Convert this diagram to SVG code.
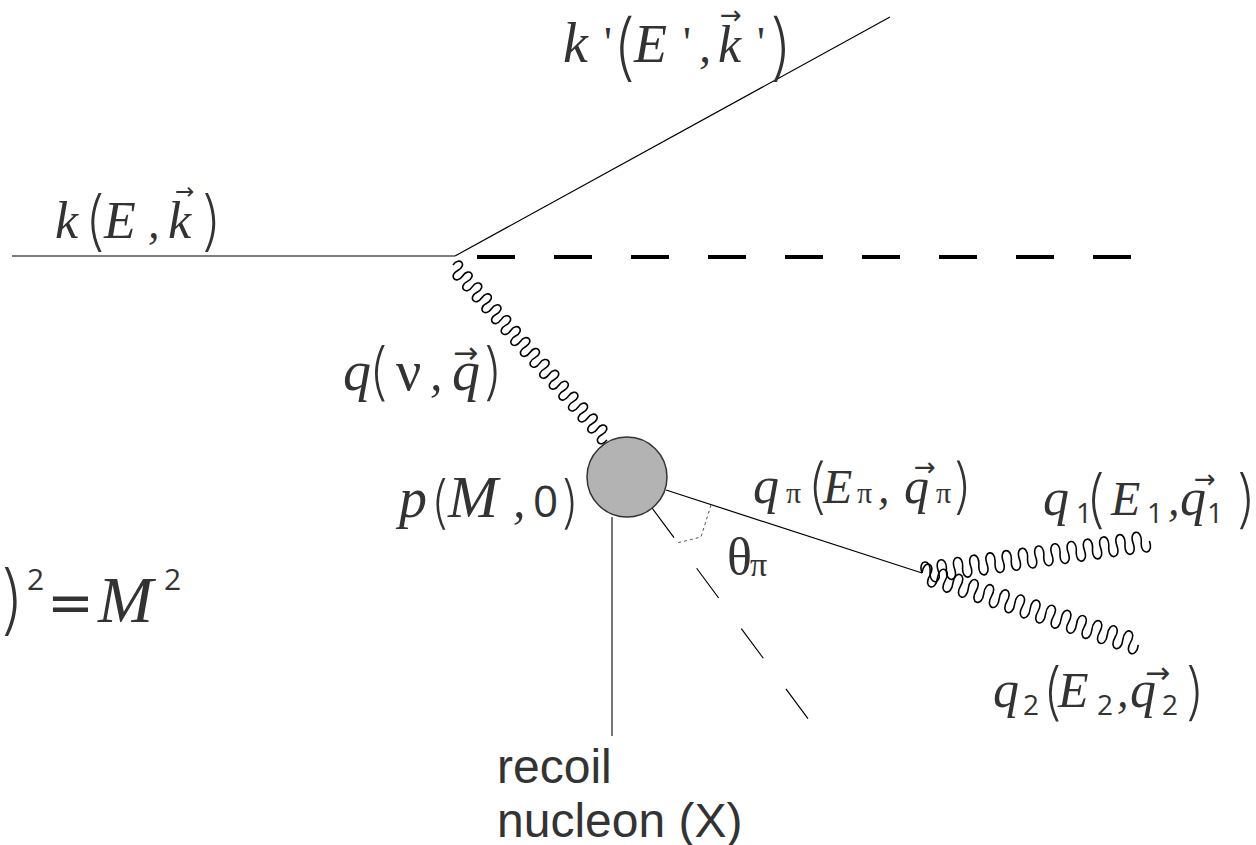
<svg xmlns="http://www.w3.org/2000/svg" width="1256" height="845" viewBox="0 0 1256 845">
<style>
.v{font-family:"Liberation Serif",serif;font-style:italic;fill:#333}
.r{font-family:"Liberation Serif",serif;fill:#333}
.p{font-family:Inter,"DejaVu Sans",sans-serif;font-weight:200;fill:#333}
.n{font-family:"Open Sans","DejaVu Sans",sans-serif;fill:#333}
.a{font-family:"DejaVu Sans",sans-serif;fill:#333}
.s{font-family:"Liberation Sans",Arial,sans-serif;fill:#333;font-size:48px}
.ln{fill:none;stroke:#000;stroke-width:1.2}
.wv{fill:none;stroke:#000;stroke-width:1.6}
</style>
<rect width="1256" height="845" fill="#fff"/>
<g id="connectors">
<line class="ln" x1="12" y1="256" x2="455" y2="256"/>
<line class="ln" x1="455" y1="256" x2="890" y2="17"/>
<line x1="477" y1="257" x2="1131" y2="257" stroke="#000" stroke-width="4" stroke-dasharray="38 39"/>
<path class="wv" transform="translate(453,265) rotate(48.65)" d="M0 0 c-2.7 -11 10 -11 7.28 0 s10 11 7.28 0 s10 -11 7.28 0 s10 11 7.28 0 s10 -11 7.28 0 s10 11 7.28 0 s10 -11 7.28 0 s10 11 7.28 0 s10 -11 7.28 0 s10 11 7.28 0 s10 -11 7.28 0 s10 11 7.28 0 s10 -11 7.28 0 s10 11 7.28 0 s10 -11 7.28 0 s10 11 7.28 0 s10 -11 7.28 0 s10 11 7.28 0 s10 -11 7.28 0 s10 11 7.28 0 s10 -11 7.28 0 s10 11 7.28 0 s10 -11 7.28 0 s10 11 7.28 0 s10 -11 7.28 0 s10 11 7.28 0 s10 -11 7.28 0 s10 11 7.28 0 s10 -11 7.28 0 s10 11 7.28 0 s10 -11 7.28 0 s10 11 7.28 0"/>
<line class="ln" x1="666" y1="490" x2="922" y2="573"/>
<line x1="612" y1="517" x2="612" y2="736" stroke="#777" stroke-width="2"/>
<line x1="652" y1="508" x2="812" y2="724" stroke="#000" stroke-width="1.2" stroke-dasharray="37 38"/>
<polyline points="711,505 701,537 677,543" fill="none" stroke="#555" stroke-width="1" stroke-dasharray="3 3"/>
<path class="wv" transform="translate(922,573) rotate(-8)" d="M0 0 c-3 -14 11.2 -14 8.2 0 s11.2 14 8.2 0 s11.2 -14 8.2 0 s11.2 14 8.2 0 s11.2 -14 8.2 0 s11.2 14 8.2 0 s11.2 -14 8.2 0 s11.2 14 8.2 0 s11.2 -14 8.2 0 s11.2 14 8.2 0 s11.2 -14 8.2 0 s11.2 14 8.2 0 s11.2 -14 8.2 0 s11.2 14 8.2 0 s11.2 -14 8.2 0 s11.2 14 8.2 0 s11.2 -14 8.2 0 s11.2 14 8.2 0 s11.2 -14 8.2 0 s11.2 14 8.2 0 s11.2 -14 8.2 0 s11.2 14 8.2 0 s11.2 -14 8.2 0 s11.2 14 8.2 0 s11.2 -14 8.2 0 s11.2 14 8.2 0 s11.2 -14 8.2 0 s11.2 14 8.2 0"/>
<path class="wv" transform="translate(922,573) rotate(18.4)" d="M0 0 c-3 -14 11.14 -14 8.14 0 s11.14 14 8.14 0 s11.14 -14 8.14 0 s11.14 14 8.14 0 s11.14 -14 8.14 0 s11.14 14 8.14 0 s11.14 -14 8.14 0 s11.14 14 8.14 0 s11.14 -14 8.14 0 s11.14 14 8.14 0 s11.14 -14 8.14 0 s11.14 14 8.14 0 s11.14 -14 8.14 0 s11.14 14 8.14 0 s11.14 -14 8.14 0 s11.14 14 8.14 0 s11.14 -14 8.14 0 s11.14 14 8.14 0 s11.14 -14 8.14 0 s11.14 14 8.14 0 s11.14 -14 8.14 0 s11.14 14 8.14 0 s11.14 -14 8.14 0 s11.14 14 8.14 0 s11.14 -14 8.14 0 s11.14 14 8.14 0 s11.14 -14 8.14 0 s11.14 14 8.14 0"/>
</g>
<g id="vertex">
<circle cx="627" cy="477" r="40" fill="#b3b3b3" stroke="#333" stroke-width="1.5"/>
</g>
<g id="label-kprime">
<text class="v" x="563" y="62" font-size="56">k</text>
<text class="r" x="604" y="57" font-size="44">'</text>
<text class="p" x="612" y="72" font-size="73">(</text>
<text class="v" x="634" y="62" font-size="54">E</text>
<text class="r" x="683" y="57" font-size="44">'</text>
<text class="v" x="699" y="62" font-size="48">,</text>
<text class="v" x="718" y="62" font-size="52">k</text>
<text class="a" x="720" y="24" font-size="26">→</text>
<text class="r" x="757" y="57" font-size="44">'</text>
<text class="p" x="769" y="72" font-size="73">)</text>
</g>
<g id="label-k">
<text class="v" x="55" y="238" font-size="52">k</text>
<text class="p" x="84" y="243" font-size="65">(</text>
<text class="v" x="104" y="238" font-size="52">E</text>
<text class="v" x="148" y="238" font-size="46">,</text>
<text class="v" x="168" y="238" font-size="52">k</text>
<text class="a" x="175" y="199" font-size="23">→</text>
<text class="p" x="201" y="243" font-size="65">)</text>
</g>
<g id="label-q">
<text class="v" x="343" y="390" font-size="56">q</text>
<text class="p" x="368" y="393" font-size="62">(</text>
<text class="r" x="396" y="390" font-size="56">ν</text>
<text class="v" x="430" y="390" font-size="50">,</text>
<text class="v" x="452" y="390" font-size="56">q</text>
<text class="a" x="453" y="363" font-size="30">→</text>
<text class="p" x="483" y="393" font-size="62">)</text>
</g>
<g id="label-p">
<text class="v" x="399" y="517" font-size="56">p</text>
<text class="p" x="430" y="522" font-size="57">(</text>
<text class="v" x="448" y="517" font-size="60">M</text>
<text class="v" x="513" y="517" font-size="50">,</text>
<text class="n" x="533" y="517" font-size="44">0</text>
<text class="p" x="561" y="522" font-size="57">)</text>
</g>
<g id="label-qpi">
<text class="v" x="753" y="503" font-size="52">q</text>
<text class="r" x="786" y="503" font-size="30">π</text>
<text class="p" x="807" y="507" font-size="60">(</text>
<text class="v" x="823" y="503" font-size="48">E</text>
<text class="r" x="857" y="503" font-size="30">π</text>
<text class="v" x="878" y="503" font-size="46">,</text>
<text class="v" x="904" y="503" font-size="50">q</text>
<text class="a" x="914" y="476" font-size="26">→</text>
<text class="r" x="936" y="503" font-size="30">π</text>
<text class="p" x="953" y="507" font-size="60">)</text>
</g>
<g id="label-theta">
<text class="r" x="727" y="574" font-size="52">θ</text>
<text class="r" x="750" y="576" font-size="34">π</text>
</g>
<g id="label-q1">
<text class="v" x="1043" y="515" font-size="52">q</text>
<text class="n" x="1076" y="523" font-size="28">1</text>
<text class="p" x="1085" y="521" font-size="63">(</text>
<text class="v" x="1111" y="515" font-size="48">E</text>
<text class="n" x="1147" y="523" font-size="28">1</text>
<text class="v" x="1168" y="515" font-size="46">,</text>
<text class="v" x="1180" y="515" font-size="52">q</text>
<text class="a" x="1194" y="488" font-size="26">→</text>
<text class="n" x="1207" y="523" font-size="28">1</text>
<text class="p" x="1236" y="521" font-size="63">)</text>
</g>
<g id="label-q2">
<text class="v" x="993" y="707" font-size="52">q</text>
<text class="n" x="1023" y="715" font-size="28">2</text>
<text class="p" x="1042" y="713" font-size="62">(</text>
<text class="v" x="1058" y="707" font-size="50">E</text>
<text class="n" x="1097" y="715" font-size="28">2</text>
<text class="v" x="1117" y="707" font-size="46">,</text>
<text class="v" x="1130" y="707" font-size="52">q</text>
<text class="a" x="1145" y="683" font-size="30">→</text>
<text class="n" x="1162" y="715" font-size="28">2</text>
<text class="p" x="1185" y="713" font-size="62">)</text>
</g>
<g id="label-mass">
<text class="p" x="0" y="626" font-size="76">)</text>
<text class="n" x="27" y="590" font-size="30">2</text>
<text class="a" x="47" y="622" font-size="56">=</text>
<text class="v" x="98" y="622" font-size="66">M</text>
<text class="n" x="164" y="590" font-size="30">2</text>
</g>
<g id="label-recoil">
<text class="s" x="497" y="783">recoil</text>
<text class="s" x="497" y="837">nucleon (X)</text>
</g>
</svg>
